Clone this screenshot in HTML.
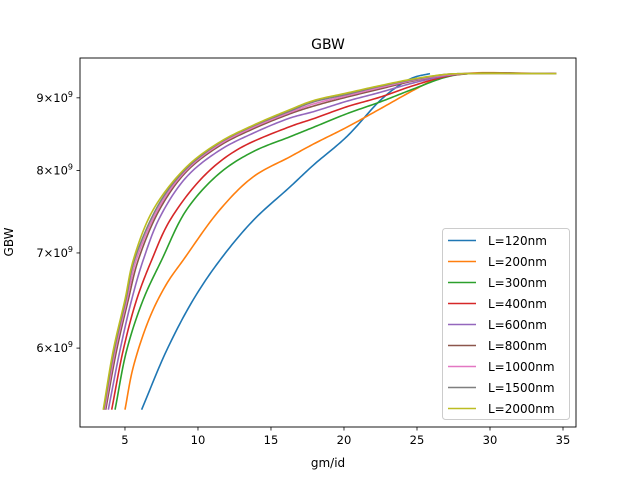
<!DOCTYPE html>
<html><head><meta charset="utf-8"><style>
body{margin:0;background:#fff;font-family:"Liberation Sans","DejaVu Sans",sans-serif}
svg text{font-family:"DejaVu Sans","Liberation Sans",sans-serif;fill:#000}
</style></head><body>
<svg id="c" width="640" height="480"></svg>
<script>
const seriesNames=["L=120nm","L=200nm","L=300nm","L=400nm","L=600nm","L=800nm","L=1000nm","L=1500nm","L=2000nm"];
const colors=["#1f77b4","#ff7f0e","#2ca02c","#d62728","#9467bd","#8c564b","#e377c2","#7f7f7f","#bcbd22"];
const s120=[[6.14,5.43],[7.86,5.98],[9.68,6.49],[11.51,6.92],[13.79,7.38],[16.3,7.79],[17.9,8.07],[20.18,8.45],[22.47,8.96],[23.62,9.16],[24.75,9.3],[25.89,9.36]];
const s200=[[5.0,5.43],[5.57,5.82],[6.71,6.31],[7.86,6.66],[8.99,6.92],[11.51,7.51],[13.79,7.92],[16.3,8.18],[17.9,8.35],[20.18,8.58],[22.47,8.84],[24.75,9.11],[26.35,9.28],[28.17,9.36],[34.55,9.36]];
const s300=[[4.32,5.43],[5.12,5.98],[6.25,6.49],[7.51,6.92],[9.23,7.51],[11.51,7.97],[13.79,8.25],[16.3,8.45],[17.9,8.58],[20.18,8.77],[22.47,8.94],[24.75,9.13],[27.03,9.31],[28.63,9.36],[34.55,9.36]];
const s400=[[4.09,5.43],[4.88,5.98],[5.8,6.49],[6.83,6.92],[8.08,7.38],[10.36,7.92],[12.65,8.27],[16.3,8.59],[17.9,8.7],[20.18,8.87],[22.47,9.01],[24.75,9.18],[27.03,9.32],[28.6,9.36],[34.55,9.36]];
const s600=[[3.86,5.43],[4.66,5.98],[5.46,6.49],[6.25,6.92],[7.4,7.42],[9.23,7.92],[11.51,8.27],[13.79,8.5],[16.3,8.71],[17.9,8.8],[20.18,8.95],[22.47,9.08],[24.75,9.22],[27.03,9.33],[28.6,9.36],[34.55,9.36]];
const s800=[[3.68,5.43],[4.43,5.98],[5.23,6.49],[5.91,6.92],[7.4,7.52],[9.23,7.99],[11.51,8.33],[13.79,8.56],[16.3,8.77],[17.9,8.88],[20.18,9.01],[22.47,9.13],[24.75,9.25],[27.03,9.34],[28.5,9.36],[34.55,9.36]];
const s1000=[[3.61,5.43],[4.34,5.98],[5.14,6.49],[5.77,6.92],[7.4,7.56],[9.23,8.01],[11.51,8.35],[13.79,8.58],[16.3,8.79],[17.9,8.91],[20.18,9.03],[22.47,9.15],[24.75,9.26],[27.03,9.34],[28.4,9.36],[34.55,9.36]];
const s1500=[[3.55,5.43],[4.26,5.98],[5.06,6.49],[5.65,6.92],[7.4,7.6],[9.23,8.03],[11.51,8.37],[13.79,8.6],[16.3,8.81],[17.9,8.94],[20.18,9.05],[22.47,9.17],[24.75,9.27],[27.03,9.35],[28.3,9.36],[34.55,9.36]];
const s2000=[[3.51,5.43],[4.2,5.98],[5.0,6.49],[5.57,6.92],[6.94,7.51],[9.23,8.05],[11.51,8.38],[13.79,8.61],[16.3,8.83],[17.9,8.96],[20.18,9.07],[22.47,9.18],[24.75,9.28],[27.03,9.35],[28.2,9.36],[34.55,9.36]];
const allSeries=[s120,s200,s300,s400,s600,s800,s1000,s1500,s2000];
const xTicks=[5,10,15,20,25,30,35];
const yTicks=[6,7,8,9];

const NS="http://www.w3.org/2000/svg";
const svg=document.getElementById('c');
const L=80,R=576,T=58,B=427;
const xMin=1.92,xMax=35.89,yMin=Math.log10(5.28),yMax=Math.log10(9.60);
function X(v){return L+(v-xMin)/(xMax-xMin)*(R-L);}
function Y(v){return B-(Math.log10(v)-yMin)/(yMax-yMin)*(B-T);}
function el(t,a,p){const e=document.createElementNS(NS,t);for(const k in a)e.setAttribute(k,a[k]);(p||svg).appendChild(e);return e;}

function smooth(s){
  const p=s.map(d=>[X(d[0]),Y(d[1])]);
  const n=p.length;
  const ext=[[2*p[0][0]-p[1][0],2*p[0][1]-p[1][1]],...p,[2*p[n-1][0]-p[n-2][0],2*p[n-1][1]-p[n-2][1]]];
  const out=[p[0]];
  function tj(ti,a,b){return ti+Math.pow(Math.hypot(b[0]-a[0],b[1]-a[1]),0.5)+1e-6;}
  for(let i=1;i<ext.length-2;i++){
    const P0=ext[i-1],P1=ext[i],P2=ext[i+1],P3=ext[i+2];
    const t0=0,t1=tj(t0,P0,P1),t2=tj(t1,P1,P2),t3=tj(t2,P2,P3);
    for(let k=1;k<=16;k++){
      const t=t1+(t2-t1)*k/16;
      const lerp=(A,Bp,ta,tb)=>[0,1].map(j=>(tb-t)/(tb-ta)*A[j]+(t-ta)/(tb-ta)*Bp[j]);
      const A1=lerp(P0,P1,t0,t1),A2=lerp(P1,P2,t1,t2),A3=lerp(P2,P3,t2,t3);
      const B1=lerp(A1,A2,t0,t2),B2=lerp(A2,A3,t1,t3);
      out.push(lerp(B1,B2,t1,t2));
    }
  }
  return out;
}

const title=el('text',{x:328,y:49,'text-anchor':'middle','font-size':14});
title.textContent='GBW';



const clip=el('clipPath',{id:'cp'});el('rect',{x:L,y:T,width:R-L,height:B-T},clip);
const plot=el('g',{'clip-path':'url(#cp)'});



allSeries.forEach((s,i)=>{
  const p=smooth(s);
  const d='M'+p.map(q=>q[0].toFixed(2)+','+q[1].toFixed(2)).join(' L');
  const path=el('path',{d:d,fill:'none',stroke:colors[i],'stroke-width':1.6,'stroke-linejoin':'round'},plot);
  
  
});

const frame=el('rect',{x:L,y:T,width:R-L,height:B-T,fill:'none',stroke:'#000','stroke-width':0.9});



xTicks.forEach(v=>{
  const x=X(v);
  el('line',{x1:x,x2:x,y1:B,y2:B+3.5,stroke:'#000','stroke-width':0.8});
  const t=el('text',{x:x,y:B+17,'text-anchor':'middle','font-size':11.5});
  t.textContent=v;
  
  
});
yTicks.forEach(v=>{
  const y=Y(v);
  el('line',{x1:L-3.5,x2:L,y1:y,y2:y,stroke:'#000','stroke-width':0.8});
  const t=el('text',{x:L-7,y:y+4,'text-anchor':'end','font-size':11.5});
  t.innerHTML=v+'×10<tspan font-size="8" dy="-5">9</tspan>';
  
  
});

const xl=el('text',{x:328,y:467,'text-anchor':'middle','font-size':12});
xl.textContent='gm/id';


const yl=el('text',{x:0,y:0,'text-anchor':'middle','font-size':12,transform:'translate(13,242) rotate(-90)'});
yl.textContent='GBW';



const lg=el('g',{});


el('rect',{x:442.5,y:228.5,width:127,height:191,rx:3,fill:'#fff','fill-opacity':0.8,stroke:'#ccc'},lg);
seriesNames.forEach((n,i)=>{
  const y=240.5+i*21;
  const g=el('g',{},lg);
  
  
  el('line',{x1:448,x2:476,y1:y,y2:y,stroke:colors[i],'stroke-width':1.6},g);
  const t=el('text',{x:488,y:y+4.5,'font-size':12},g);
  t.textContent=n;
});
</script>
</body></html>
